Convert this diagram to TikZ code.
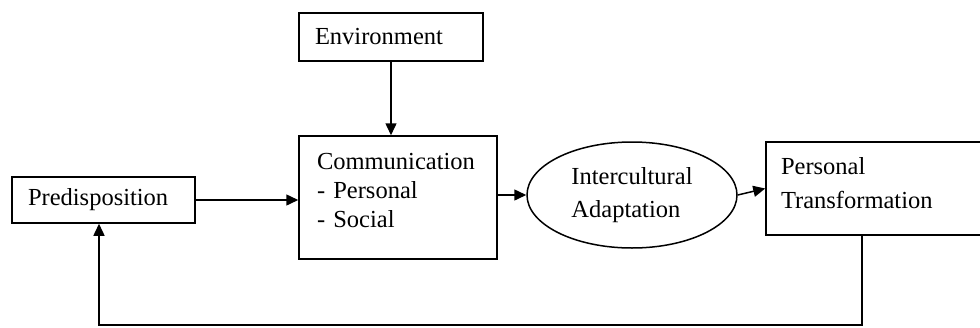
\documentclass[tikz,border=0pt]{standalone}
\usepackage{fontspec}
\setmainfont{Liberation Serif}
\usetikzlibrary{positioning, shapes.geometric, arrows.meta}

\tikzset{
	box/.style={draw, rectangle, align=left, inner xsep=8pt, line width=0.75pt},
	oval/.style={draw, ellipse, align=left, line width=0.75pt},
	flow/.style={-{Triangle[length=6pt,width=5.5pt]}, line width=0.75pt},
}

\begin{document}
\begin{tikzpicture}[x=0.5pt, y=-0.5pt, font=\fontsize{12.25}{16.75}\selectfont]
\useasboundingbox (0,0) rectangle (980,327);

\node[box, minimum width=92pt, minimum height=24pt, text width=76pt] (env) at (391,37) {Environment};
\node[box, minimum width=91.5pt, minimum height=23pt, text width=75.5pt] (pre) at (103.5,200) {Predisposition};
\node[box, minimum width=99pt, minimum height=61.5pt, inner xsep=9pt, text width=81pt,
	font=\fontsize{12.25}{14.5}\selectfont] (comm) at (398,197.5) {Communication\\- Personal\\- Social\rule[-7.5pt]{0pt}{7.5pt}};
\node[oval, minimum width=105pt, minimum height=53pt] (ell) at (632,195) {Intercultural\\Adaptation};
\node[box, minimum width=117pt, minimum height=46.5pt, inner xsep=7.5pt, text width=102pt] (pt) at (883,188.5) {Personal\\Transformation\rule[-5.5pt]{0pt}{5.5pt}};

\draw[flow] (env.south) -- (env.south |- comm.north);
\draw[flow] (pre.east) -- (pre.east -| comm.west);
\draw[flow] (ell.west -| comm.east) -- (ell.west);
\draw[flow] (ell.east) -- (pt.west);

% feedback loop
\coordinate (loopR) at (862,325);
\coordinate (loopL) at (99,325);
\draw[flow] (pt.south -| loopR) -- (loopR) -- (loopL) -- (pre.south -| loopL);

\end{tikzpicture}
\end{document}
